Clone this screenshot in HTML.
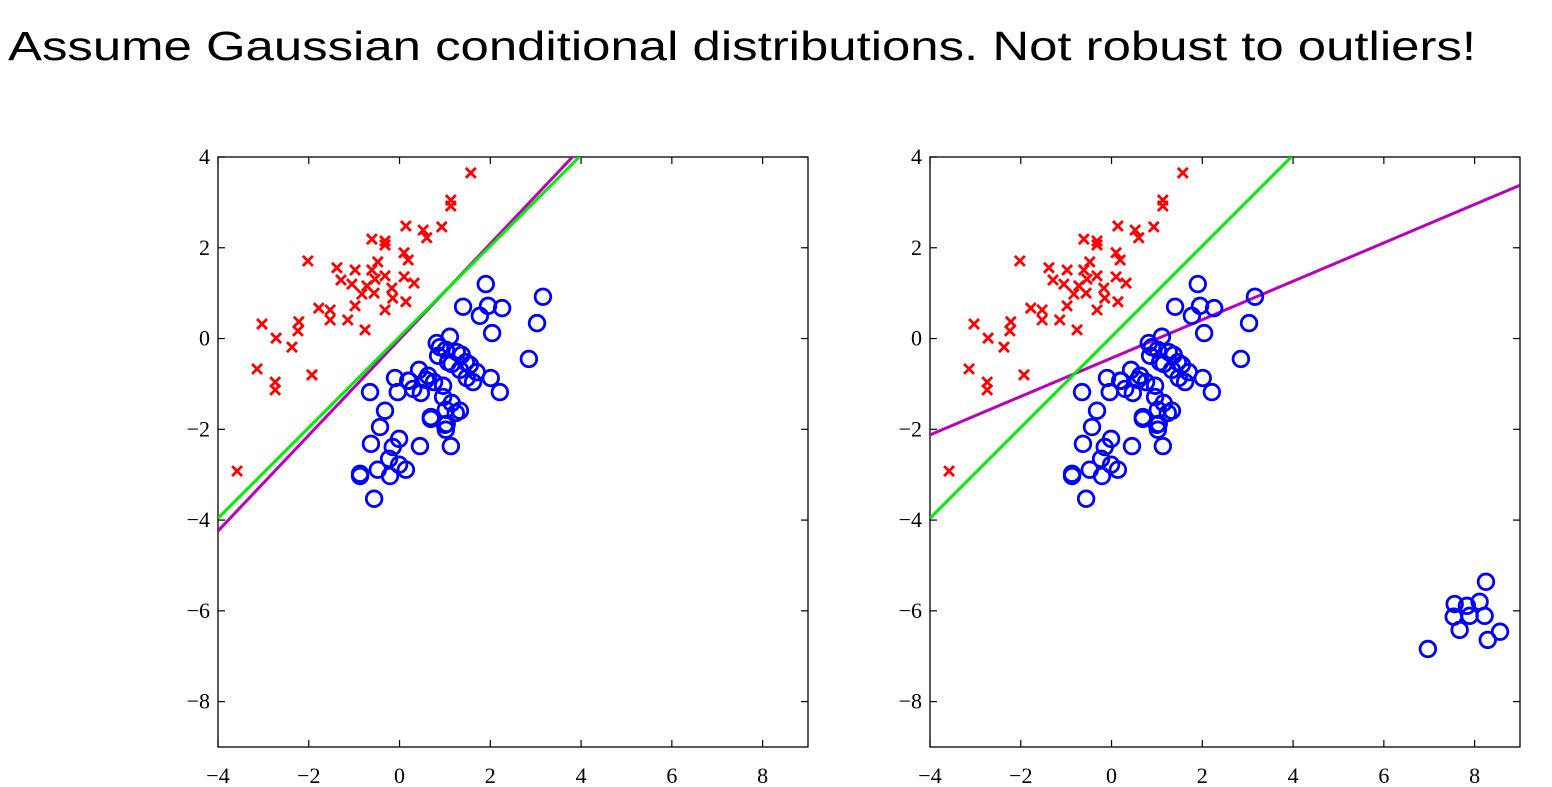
<!DOCTYPE html>
<html><head><meta charset="utf-8"><style>
html,body{margin:0;padding:0;background:#fff;width:1552px;height:787px;overflow:hidden}
</style></head><body>
<svg id="chart" width="1552" height="787" xmlns="http://www.w3.org/2000/svg">
<text x="8" y="60" font-family="Liberation Sans, sans-serif" font-size="41" textLength="1468" lengthAdjust="spacingAndGlyphs" fill="#000">Assume Gaussian conditional distributions. Not robust to outliers!</text>
</svg>
<script>
const xTicks=[-4,-2,0,2,4,6,8];
const yTicks=[4,2,0,-2,-4,-6,-8];
const redX=[1.57,1.13,1.13,0.93,0.52,0.60,0.14,-0.61,-0.32,-0.32,-2.02,-1.38,-0.98,-0.61,-0.48,0.10,0.19,-0.72,-0.54,-0.32,-0.17,-1.29,-1.05,0.10,0.32,-0.83,-0.56,-0.15,0.14,-0.32,-0.98,-1.14,-1.53,-1.78,-1.53,-3.03,-2.72,-2.22,-2.24,-2.37,-3.14,-2.74,-2.74,-0.76,-1.93,-3.58];
const redY=[3.65,3.05,2.92,2.46,2.39,2.22,2.48,2.19,2.15,2.06,1.71,1.56,1.51,1.51,1.69,1.89,1.73,1.16,1.31,1.38,1.11,1.29,1.20,1.36,1.22,0.98,1.00,0.89,0.81,0.63,0.72,0.41,0.41,0.67,0.63,0.32,0.01,0.37,0.17,-0.19,-0.67,-0.96,-1.13,0.19,-0.80,-2.92];
const blueX=[1.90,1.40,1.95,2.26,1.77,2.04,3.16,3.03,2.85,2.21,2.01,1.70,0.82,1.02,1.07,0.85,1.15,1.46,1.55,1.37,1.26,1.48,1.62,1.33,1.11,0.76,0.63,0.21,0.30,0.47,0.58,0.43,-0.04,-0.10,0.69,0.69,0.96,1.02,1.24,1.00,1.02,1.04,1.13,1.33,1.15,-0.65,-0.32,-0.43,-0.15,-0.23,-0.01,0.14,-0.21,-0.48,-0.87,-0.87,-0.56,0.45,-0.01,-0.63,0.19,0.96,0.89];
const blueY=[1.20,0.70,0.72,0.67,0.50,0.12,0.92,0.34,-0.45,-1.18,-0.87,-0.74,-0.10,-0.25,-0.52,-0.38,-0.56,-0.52,-0.58,-0.36,-0.30,-0.87,-0.96,-0.69,0.04,-0.96,-0.82,-0.93,-1.11,-1.20,-0.91,-0.69,-1.18,-0.87,-1.77,-1.73,-1.29,-1.57,-1.64,-1.90,-2.01,-1.88,-2.37,-1.59,-1.42,-1.18,-1.59,-1.95,-2.39,-2.65,-2.78,-2.89,-3.03,-2.89,-2.98,-3.03,-3.53,-2.37,-2.21,-2.32,-0.93,-1.04,-0.19];
const outX=[7.56,7.83,8.11,8.25,7.89,8.22,7.54,7.67,8.56,8.29,6.97];
const outY=[-5.85,-5.89,-5.80,-5.36,-6.11,-6.11,-6.13,-6.42,-6.46,-6.64,-6.84];
// lines: [slope, intercept]
const greenLine=[1.0,0.04];
const purpleLeft=[1.055,-0.02];
const purpleRight=[0.423,-0.43];
const xMin=-4,xMax=9,yMin=-9,yMax=4;
const svg=document.getElementById('chart');
const NS='http://www.w3.org/2000/svg';
function mk(tag,attrs,parent){const e=document.createElementNS(NS,tag);for(const k in attrs)e.setAttribute(k,attrs[k]);(parent||svg).appendChild(e);return e;}
function panel(left,name,withOut,purple){
  const L=left,T=157,W=590,H=590;
  const sx=v=>L+(v-xMin)/(xMax-xMin)*W;
  const sy=v=>T+(yMax-v)/(yMax-yMin)*H;
  const g=mk('g',{});
  
  
  const clipId=name+'-clip';
  const cp=mk('clipPath',{id:clipId},g);mk('rect',{x:L,y:T,width:W,height:H},cp);
  const box=mk('rect',{x:L,y:T,width:W,height:H,fill:'none',stroke:'#000','stroke-width':1.3},g);
  
  
  xTicks.forEach(t=>{const x=sx(t);
    mk('line',{x1:x,x2:x,y1:T+H,y2:T+H-7,stroke:'#000','stroke-width':1.2},g);
    mk('line',{x1:x,x2:x,y1:T,y2:T+7,stroke:'#000','stroke-width':1.2},g);
    const tx=mk('text',{x:x,y:783,'text-anchor':'middle','font-family':'Liberation Serif, serif','font-size':22},g);
    tx.textContent=(t<0?'\u2212'+(-t):t);
    
    });
  yTicks.forEach(t=>{const y=sy(t);
    mk('line',{x1:L,x2:L+7,y1:y,y2:y,stroke:'#000','stroke-width':1.2},g);
    mk('line',{x1:L+W,x2:L+W-7,y1:y,y2:y,stroke:'#000','stroke-width':1.2},g);
    const tx=mk('text',{x:L-8,y:y+7,'text-anchor':'end','font-family':'Liberation Serif, serif','font-size':22},g);
    tx.textContent=(t<0?'\u2212'+(-t):t);
    
    });
  const pg=mk('g',{'clip-path':'url(#'+clipId+')'},g);
  function line(p,col,nm){const x1=xMin,x2=xMax;
    const l=mk('line',{x1:sx(x1),y1:sy(p[0]*x1+p[1]),x2:sx(x2),y2:sy(p[0]*x2+p[1]),stroke:col,'stroke-width':3},pg);
    
    }
  line(purple,'#bb00bb','purple-boundary');
  line(greenLine,'#00ee00','green-boundary');
  redX.forEach((v,i)=>{const x=sx(v),y=sy(redY[i]),d=5;
    const p=mk('path',{d:`M${x-d} ${y-d}L${x+d} ${y+d}M${x-d} ${y+d}L${x+d} ${y-d}`,stroke:'#ff0000','stroke-width':2.8,fill:'none'},pg);
    
    });
  const bx=withOut?blueX.concat(outX):blueX, by=withOut?blueY.concat(outY):blueY;
  bx.forEach((v,i)=>{const c=mk('circle',{cx:sx(v),cy:sy(by[i]),r:7.8,fill:'none',stroke:'#0000ff','stroke-width':2.8},pg);
    
    });
}
panel(218,'left-panel',false,purpleLeft);
panel(930,'right-panel',true,purpleRight);
</script>
</body></html>
